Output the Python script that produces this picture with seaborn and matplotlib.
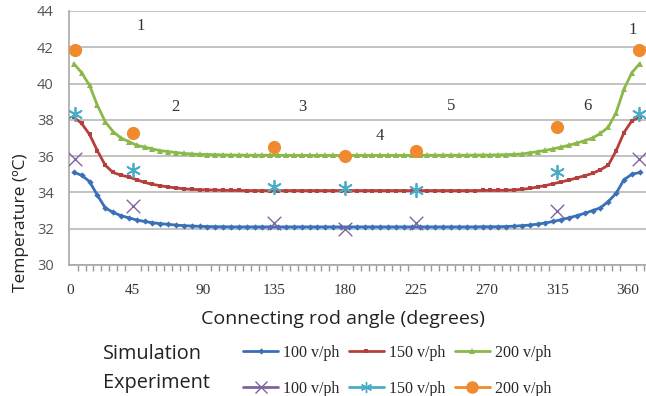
import numpy as np
import pandas as pd
import seaborn as sns
import matplotlib
matplotlib.use("Agg")
import matplotlib.pyplot as plt
from matplotlib.lines import Line2D

# ---------------- data ----------------
sim_angle = np.arange(7.5, 368, 5)

sim_100 = [35.10, 34.95, 34.60, 33.85, 33.15, 32.90, 32.72, 32.60, 32.48, 32.40,
           32.33, 32.28, 32.24, 32.20, 32.17, 32.15, 32.13,
           32.12, 32.11, 32.11, 32.10, 32.10, 32.10, 32.10, 32.10, 32.10, 32.10,
           32.10, 32.10, 32.10, 32.10, 32.10, 32.10, 32.10, 32.10, 32.10, 32.10,
           32.10, 32.10, 32.10, 32.10, 32.10, 32.10, 32.10, 32.10, 32.10, 32.10,
           32.10, 32.10, 32.10, 32.10, 32.10, 32.11, 32.11, 32.11,
           32.12, 32.14, 32.17, 32.20, 32.25, 32.32, 32.40, 32.50, 32.60, 32.72,
           32.85, 33.00, 33.15, 33.50, 33.95, 34.70, 35.00, 35.10]

sim_150 = [38.15, 37.80, 37.20, 36.30, 35.50, 35.10, 34.95, 34.85, 34.70, 34.55,
           34.45, 34.37, 34.30, 34.25, 34.20, 34.17, 34.15,
           34.14, 34.13, 34.12, 34.11, 34.11, 34.10, 34.10, 34.10, 34.10, 34.10,
           34.10, 34.10, 34.10, 34.10, 34.10, 34.10, 34.10, 34.10, 34.10, 34.10,
           34.10, 34.10, 34.10, 34.10, 34.10, 34.10, 34.10, 34.10, 34.10, 34.10,
           34.10, 34.10, 34.10, 34.10, 34.10, 34.11, 34.11, 34.11,
           34.12, 34.14, 34.17, 34.22, 34.30, 34.38, 34.48, 34.58, 34.68, 34.80,
           34.92, 35.05, 35.25, 35.50, 36.30, 37.30, 37.95, 38.15]

sim_200 = [41.10, 40.60, 39.90, 38.80, 37.90, 37.35, 37.00, 36.80, 36.60, 36.50,
           36.40, 36.30, 36.25, 36.20, 36.15, 36.12, 36.10,
           36.09, 36.08, 36.07, 36.06, 36.06, 36.05, 36.05, 36.05, 36.05, 36.05,
           36.04, 36.04, 36.04, 36.04, 36.04, 36.04, 36.04, 36.04, 36.04, 36.04,
           36.04, 36.04, 36.04, 36.04, 36.04, 36.04, 36.04, 36.05, 36.05, 36.05,
           36.05, 36.05, 36.05, 36.05, 36.06, 36.06, 36.06, 36.07,
           36.08, 36.10, 36.12, 36.18, 36.25, 36.32, 36.40, 36.50, 36.60, 36.72,
           36.85, 37.00, 37.25, 37.60, 38.40, 39.70, 40.60, 41.10]

exp_angle = [8, 45, 135, 180, 225, 315, 367]
exp_100 = [35.85, 33.25, 32.30, 32.00, 32.30, 33.00, 35.85]
exp_150 = [38.35, 35.25, 34.30, 34.25, 34.15, 35.10, 38.30]
exp_200 = [41.85, 37.30, 36.50, 36.00, 36.30, 37.60, 41.85]

tick_pos = [5, 45, 90, 135, 180, 225, 270, 315, 360]
tick_labels = ["0", "45", "90", "135", "180", "225", "270", "315", "360"]
y_ticks = [30, 32, 34, 36, 38, 40, 42, 44]

zone_labels = ["1", "2", "3", "4", "5", "6", "1"]
zone_x = [50, 72, 153, 202, 247.5, 334, 363]
zone_y = [43.2, 38.7, 38.7, 37.1, 38.75, 38.75, 42.95]

series_names = ["100 v/ph", "150 v/ph", "200 v/ph"]

# ---------------- style ----------------
sns.set_theme(style="white")
plt.rcParams["font.family"] = ["Open Sans", "DejaVu Sans"]

c_blue, c_red, c_green = "#3A70B8", "#B5403B", "#8AB84A"
c_purple, c_cyan, c_orange = "#8064A2", "#4BACC6", "#F08A2E"

fig = plt.figure(figsize=(6.46, 3.96), dpi=100)
ax = fig.add_axes([69/646, 1-265/396, (646-69)/646, 254/396])

df_sim = pd.DataFrame({"angle": sim_angle, "s100": sim_100,
                       "s150": sim_150, "s200": sim_200})

sim_specs = [("s100", c_blue, "D", 3.2), ("s150", c_red, "s", 3.4),
             ("s200", c_green, "^", 3.8)]
for col, c, m, ms in sim_specs:
    sns.lineplot(data=df_sim, x="angle", y=col, ax=ax, color=c, marker=m,
                 markersize=ms, linewidth=2.0, markeredgewidth=0,
                 estimator=None, sort=False, legend=False)

df_exp = pd.DataFrame({"angle": exp_angle, "e100": exp_100,
                       "e150": exp_150, "e200": exp_200})
sns.scatterplot(data=df_exp, x="angle", y="e100", ax=ax, marker="x",
                color=c_purple, s=95, linewidth=1.0, zorder=5, legend=False)
sns.scatterplot(data=df_exp, x="angle", y="e150", ax=ax, marker=(6, 2, 0),
                color=c_cyan, s=95, linewidth=1.3, zorder=5, legend=False)
sns.scatterplot(data=df_exp, x="angle", y="e200", ax=ax, marker="o",
                color=c_orange, s=90, linewidth=0, zorder=5, legend=False)

ax.set_xlim(4.45, 371.5)
ax.set_ylim(30, 44)
ax.set_yticks(y_ticks)
ax.set_yticklabels([str(v) for v in y_ticks])
ax.set_xticks(tick_pos)
ax.set_xticklabels(tick_labels, fontfamily="Liberation Serif", fontsize=11,
                   color="#333333")
ax.set_xticks(np.arange(5, 371, 5), minor=True)
ax.tick_params(axis="x", which="major", length=0, pad=14)
ax.tick_params(axis="x", which="minor", length=4, width=1, color="#999999",
               direction="out", bottom=True)
ax.tick_params(axis="y", length=0, pad=11, labelsize=10.5, labelcolor="#555555")

ax.grid(axis="y", color="#BDBDBD", linewidth=1.3)
ax.grid(axis="x", visible=False)
for s in ["top", "right"]:
    ax.spines[s].set_visible(False)
for s in ["left", "bottom"]:
    ax.spines[s].set_color("#A8A8A8")
    ax.spines[s].set_linewidth(1.2)

ax.set_xlabel("Connecting rod angle (degrees)", fontsize=14, color="#222222")
ax.set_ylabel("Temperature (ºC)", fontsize=12.5, color="#222222")
ax.xaxis.set_label_coords((343-69)/577, (265-310)/254)
ax.yaxis.set_label_coords((29-69)/577, (265-223)/254)

for t, x, y in zip(zone_labels, zone_x, zone_y):
    ax.text(x, y, t, fontfamily="Liberation Serif", fontsize=12,
            color="#333333", ha="center", va="center")

# ---------------- legend ----------------
sim_handles = [Line2D([], [], color=c, marker=m, markersize=ms, lw=2.0,
                      markeredgewidth=0) for _, c, m, ms in sim_specs]
exp_handles = [Line2D([], [], color=c_purple, marker="x", markersize=8, lw=2.0),
               Line2D([], [], color=c_cyan, marker=(6, 2, 0), markersize=8, lw=2.0),
               Line2D([], [], color=c_orange, marker="o", markersize=8, lw=2.0)]

leg_kw = dict(ncol=3, frameon=False, loc="center left", borderpad=0,
              borderaxespad=0, handlelength=2.2, handletextpad=0.3,
              columnspacing=0.6, bbox_transform=fig.transFigure,
              prop={"family": "Liberation Serif", "size": 11.5})
leg1 = fig.legend(sim_handles, series_names, bbox_to_anchor=(243/646, 1-353/396),
                  **leg_kw)
leg2 = fig.legend(exp_handles, series_names, bbox_to_anchor=(243/646, 1-389/396),
                  **leg_kw)

fig.text(103/646, 1-354/396, "Simulation", fontsize=14.3, color="#222222",
         ha="left", va="center")
fig.text(103/646, 1-383/396, "Experiment", fontsize=14.3, color="#222222",
         ha="left", va="center")

fig.savefig("out.png", dpi=100)
